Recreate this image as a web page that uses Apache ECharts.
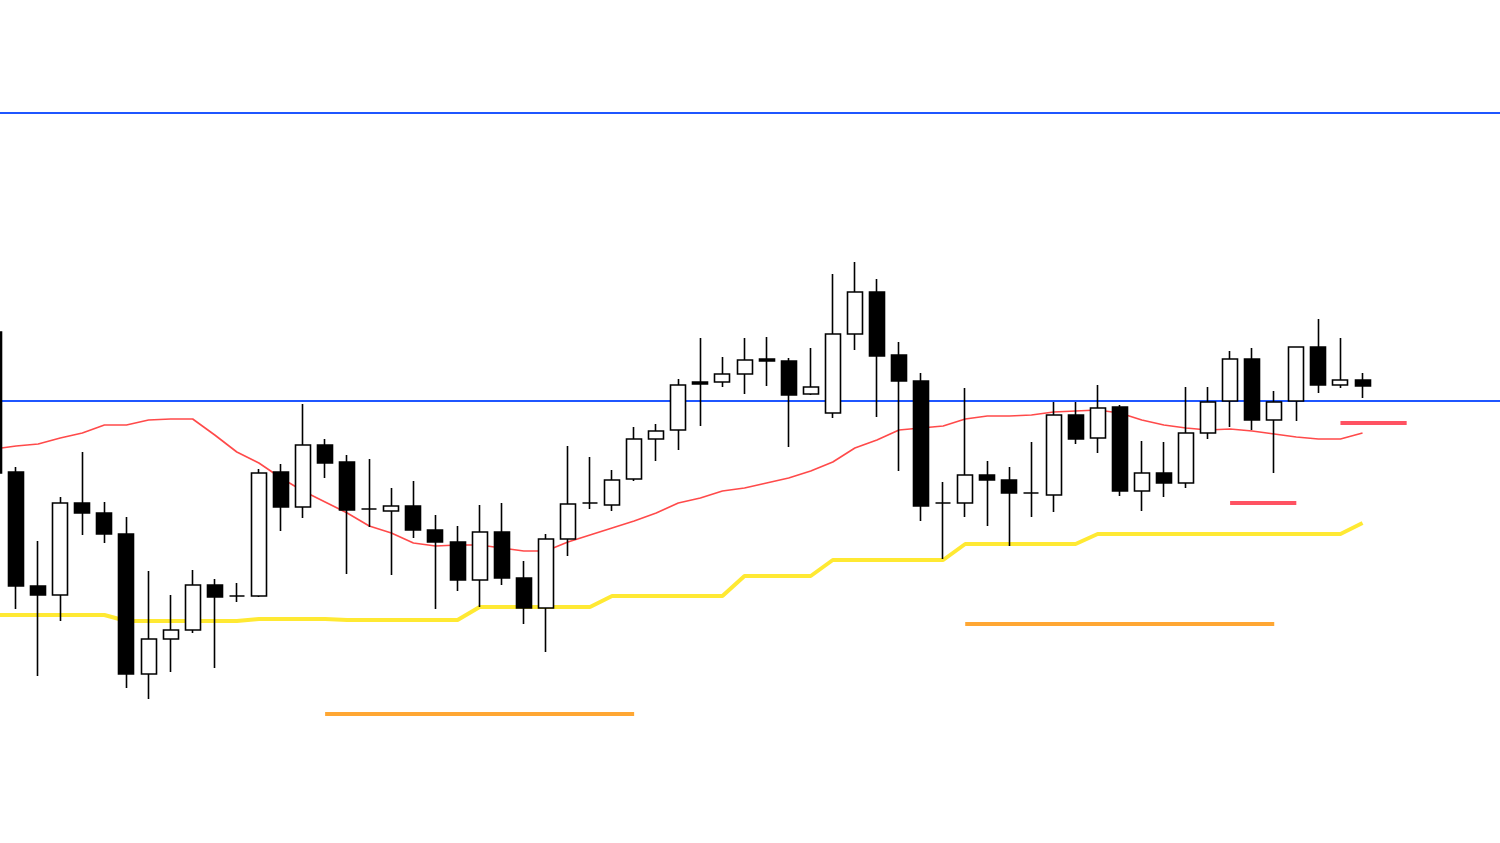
<!DOCTYPE html>
<html>
<head>
<meta charset="utf-8">
<script src="https://cdn.jsdelivr.net/npm/echarts@6/dist/echarts.min.js"></script>
<style>
html,body{margin:0;padding:0;background:#ffffff;overflow:hidden;width:1500px;height:843px;}
#chart{position:absolute;left:-17.4px;top:0;width:1523.2px;height:843px;}
</style>
</head>
<body>
<div id="chart"></div>
<script>
// Bar labels (69 slots, the last ones empty)
const categories = ['1','2','3','4','5','6','7','8','9','10','11','12','13','14','15','16','17','18','19','20',
'21','22','23','24','25','26','27','28','29','30','31','32','33','34','35','36','37','38','39','40',
'41','42','43','44','45','46','47','48','49','50','51','52','53','54','55','56','57','58','59','60',
'61','62','63','64','65','66','67','68','69'];

// [open, close, low, high]
const ohlc = [
[150.69,149.28,149.23,150.76],
[149.29,148.15,147.92,149.34],
[148.15,148.06,147.25,148.60],
[148.06,148.98,147.80,149.04],
[148.98,148.88,148.66,149.49],
[148.88,148.67,148.58,148.99],
[148.67,147.27,147.13,148.84],
[147.27,147.62,147.02,148.30],
[147.62,147.71,147.29,148.06],
[147.71,148.16,147.68,148.31],
[148.16,148.04,147.33,148.22],
[148.05,148.05,147.99,148.18],
[148.05,149.28,148.04,149.32],
[149.29,148.94,148.70,149.37],
[148.94,149.56,148.83,149.97],
[149.56,149.38,149.23,149.62],
[149.39,148.91,148.27,149.46],
[148.92,148.92,148.74,149.42],
[148.90,148.95,148.26,149.13],
[148.95,148.71,148.63,149.20],
[148.71,148.59,147.92,148.86],
[148.59,148.21,148.10,148.75],
[148.21,148.69,147.94,148.96],
[148.69,148.23,148.16,148.98],
[148.23,147.93,147.77,148.40],
[147.93,148.62,147.49,148.67],
[148.62,148.97,148.45,149.55],
[148.98,148.98,148.92,149.44],
[148.96,149.21,148.90,149.31],
[149.22,149.62,149.20,149.74],
[149.62,149.70,149.40,149.77],
[149.71,150.16,149.51,150.22],
[150.19,150.17,149.75,150.63],
[150.19,150.27,150.14,150.44],
[150.27,150.41,150.07,150.63],
[150.42,150.40,150.15,150.64],
[150.40,150.06,149.54,150.43],
[150.07,150.14,150.06,150.53],
[149.88,150.67,149.83,151.27],
[150.67,151.09,150.51,151.39],
[151.09,150.45,149.84,151.22],
[150.46,150.20,149.30,150.59],
[150.20,148.95,148.80,150.28],
[148.98,148.98,148.42,149.19],
[148.98,149.26,148.84,150.13],
[149.26,149.21,148.75,149.40],
[149.21,149.08,148.55,149.34],
[149.08,149.08,148.84,149.59],
[149.06,149.86,148.89,149.99],
[149.86,149.62,149.57,149.99],
[149.63,149.93,149.48,150.16],
[149.94,149.10,149.05,149.96],
[149.10,149.28,148.90,149.60],
[149.28,149.18,149.04,149.59],
[149.18,149.68,149.13,150.14],
[149.68,149.99,149.62,150.14],
[150.00,150.42,149.74,150.50],
[150.42,149.81,149.71,150.53],
[149.81,149.99,149.28,150.10],
[150.00,150.54,149.80,150.54],
[150.54,150.16,150.08,150.82],
[150.16,150.21,150.13,150.63],
[150.21,150.15,150.03,150.28]
];

// Moving average (red)
const maLine = [
149.52,149.55,149.57,149.63,149.68,149.76,149.76,149.81,149.82,149.82,
149.66,149.49,149.38,149.23,149.10,148.99,148.88,148.75,148.68,148.58,
148.55,148.56,148.56,148.53,148.50,148.50,148.59,148.66,148.73,148.80,
148.88,148.98,149.03,149.10,149.13,149.18,149.23,149.30,149.39,149.53,
149.61,149.71,149.73,149.75,149.82,149.85,149.85,149.86,149.89,149.90,
149.91,149.88,149.81,149.76,149.73,149.71,149.72,149.70,149.67,149.64,
149.62,149.62,149.68
];

// Trailing low line (yellow)
const trailLine = [
147.86,147.86,147.86,147.86,147.86,147.86,
147.80,147.80,147.80,147.80,147.80,147.80,
147.82,147.82,147.82,147.82,
147.81,147.81,147.81,147.81,147.81,147.81,
147.94,147.94,147.94,147.94,147.94,147.94,
148.05,148.05,148.05,148.05,148.05,148.05,
148.25,148.25,148.25,148.25,
148.41,148.41,148.41,148.41,148.41,148.41,
148.57,148.57,148.57,148.57,148.57,148.57,
148.67,148.67,148.67,148.67,148.67,148.67,148.67,148.67,148.67,148.67,148.67,148.67,
148.78
];

// Horizontal levels
const blueLevels = [150.00, 152.88];
const orangeSegments = [[15, 29, 146.87], [44, 58, 147.77]];   // [fromBar, toBar, price]
const redSegments = [[56, 59, 148.98], [61, 64, 149.78]];

const Y_MIN = 145.58, Y_MAX = 154.01;

const chart = echarts.init(document.getElementById('chart'), null, {renderer: 'canvas'});

const segSeries = (segs, color, z) => segs.map(s => ({
  type: 'line',
  data: [[s[0], s[2]], [s[1], s[2]]],
  symbol: 'none',
  silent: true,
  z: z,
  lineStyle: {color: color, width: 4, cap: 'butt'}
}));

const option = {
  animation: false,
  backgroundColor: '#ffffff',
  grid: {left: 0, right: 0, top: 0, bottom: 0, containLabel: false},
  xAxis: {
    type: 'category',
    data: categories,
    boundaryGap: true,
    show: false
  },
  yAxis: {
    type: 'value',
    min: Y_MIN,
    max: Y_MAX,
    show: false,
    scale: true,
    splitLine: {show: false}
  },
  series: [
    {
      type: 'line',
      data: trailLine,
      symbol: 'none',
      silent: true,
      z: 2,
      lineStyle: {color: '#ffe933', width: 4}
    },
    {
      type: 'line',
      data: maLine,
      symbol: 'none',
      silent: true,
      z: 3,
      lineStyle: {color: '#ff4a4a', width: 1.6}
    },
    ...segSeries(orangeSegments, '#ffa733', 3),
    ...segSeries(redSegments, '#ff5262', 3),
    {
      type: 'candlestick',
      data: ohlc,
      barWidth: 15.5,
      z: 5,
      silent: true,
      itemStyle: {
        color: '#ffffff',
        color0: '#000000',
        borderColor: '#000000',
        borderColor0: '#000000',
        borderColorDoji: '#000000',
        borderWidth: 1.6
      }
    },
    {
      type: 'line',
      data: [],
      z: 10,
      silent: true,
      markLine: {
        silent: true,
        symbol: ['none', 'none'],
        label: {show: false},
        lineStyle: {color: '#1f56ff', width: 2, type: 'solid'},
        data: blueLevels.map(v => ({yAxis: v}))
      }
    }
  ]
};
chart.setOption(option);
</script>
</body>
</html>
